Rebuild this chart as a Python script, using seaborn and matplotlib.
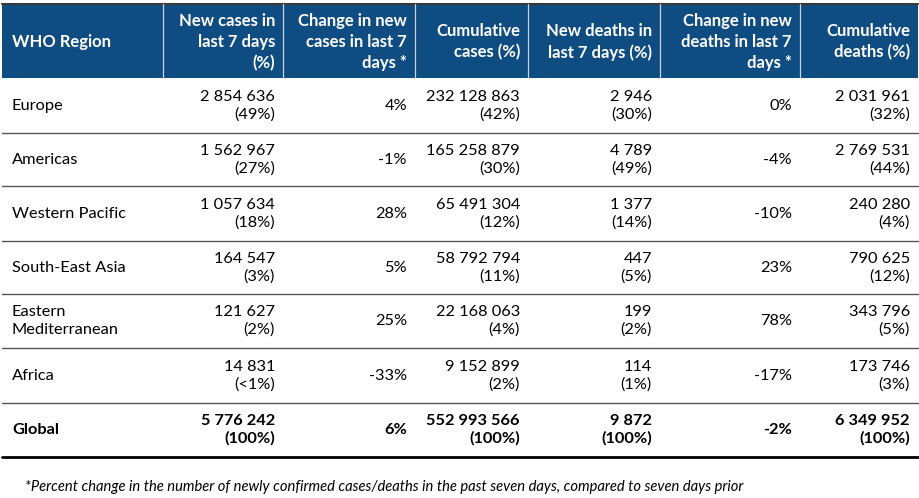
import matplotlib
matplotlib.use("Agg")
import matplotlib.pyplot as plt
import seaborn as sns
import pandas as pd

sns.set_theme(style="white")
plt.rcParams["font.family"] = ["Lato", "DejaVu Sans"]

# Table content
headers = ["WHO Region", "New cases in\nlast 7 days\n(%)", "Change in new\ncases in last 7\ndays *",
           "Cumulative\ncases (%)", "New deaths in\nlast 7 days (%)", "Change in new\ndeaths in last 7\ndays *",
           "Cumulative\ndeaths (%)"]
regions = ["Europe", "Americas", "Western Pacific", "South-East Asia", "Eastern\nMediterranean", "Africa", "Global"]
new_cases = ["2 854 636", "1 562 967", "1 057 634", "164 547", "121 627", "14 831", "5 776 242"]
new_cases_pct = ["(49%)", "(27%)", "(18%)", "(3%)", "(2%)", "(<1%)", "(100%)"]
change_cases = ["4%", "-1%", "28%", "5%", "25%", "-33%", "6%"]
cum_cases = ["232 128 863", "165 258 879", "65 491 304", "58 792 794", "22 168 063", "9 152 899", "552 993 566"]
cum_cases_pct = ["(42%)", "(30%)", "(12%)", "(11%)", "(4%)", "(2%)", "(100%)"]
new_deaths = ["2 946", "4 789", "1 377", "447", "199", "114", "9 872"]
new_deaths_pct = ["(30%)", "(49%)", "(14%)", "(5%)", "(2%)", "(1%)", "(100%)"]
change_deaths = ["0%", "-4%", "-10%", "23%", "78%", "-17%", "-2%"]
cum_deaths = ["2 031 961", "2 769 531", "240 280", "790 625", "343 796", "173 746", "6 349 952"]
cum_deaths_pct = ["(32%)", "(44%)", "(4%)", "(12%)", "(5%)", "(3%)", "(100%)"]
footnote = "*Percent change in the number of newly confirmed cases/deaths in the past seven days, compared to seven days prior"

df = pd.DataFrame({
    "region": regions,
    "new_cases": [a + "\n" + b for a, b in zip(new_cases, new_cases_pct)],
    "change_cases": change_cases,
    "cum_cases": [a + "\n" + b for a, b in zip(cum_cases, cum_cases_pct)],
    "new_deaths": [a + "\n" + b for a, b in zip(new_deaths, new_deaths_pct)],
    "change_deaths": change_deaths,
    "cum_deaths": [a + "\n" + b for a, b in zip(cum_deaths, cum_deaths_pct)],
})

# Layout (pixel coordinates)
col_edges = [2, 163, 283, 415, 528, 660, 800, 918]
row_edges = [78, 133, 186, 241, 294, 348, 403, 457]
header_top = 4
pad = 8
header_color = "#0F4C81"
fs = 11.8
hfs = 12.0

fig = plt.figure(figsize=(9.2, 4.98), dpi=100)
ax = fig.add_axes([0, 0, 1, 1])
ax.set_xlim(0, 920)
ax.set_ylim(498, 0)
ax.axis("off")

# header band
ax.fill_between([col_edges[0], col_edges[-1]], header_top, row_edges[0], color=header_color, lw=0)
ax.plot([col_edges[0], col_edges[-1]], [header_top, header_top], color="#3a3a3a", lw=1.5)
for x in col_edges[1:-1]:
    ax.plot([x, x], [header_top, row_edges[0]], color="#c8d3df", lw=0.9)

hy = (header_top + row_edges[0]) / 2 + 1
for j, h in enumerate(headers):
    if j == 0:
        ax.text(col_edges[0] + 10, hy, h, ha="left", va="center", color="white",
                fontsize=hfs, fontweight="bold")
    else:
        ax.text(col_edges[j + 1] - pad, hy, h, ha="right", va="center", color="white",
                fontsize=hfs, fontweight="bold", multialignment="right", linespacing=1.38)

# body rows
for i, row in df.iterrows():
    y0, y1 = row_edges[i], row_edges[i + 1]
    yc = (y0 + y1) / 2
    bold = "bold" if row["region"] == "Global" else "normal"
    ax.text(col_edges[0] + 10, yc, row["region"], ha="left", va="center", fontsize=fs,
            fontweight=bold, color="black", linespacing=1.28)
    for j, key in enumerate(df.columns[1:], start=1):
        ax.text(col_edges[j + 1] - pad, yc, row[key], ha="right", va="center", fontsize=fs,
                fontweight=bold, color="black", multialignment="right", linespacing=1.28)
    last = i == len(df) - 1
    ax.plot([col_edges[0], col_edges[-1]], [y1, y1], color="black" if last else "#555555",
            lw=2.0 if last else 1.0)

ax.text(25, 487, footnote, ha="left", va="center", fontsize=10.6, style="italic", color="black")

fig.savefig("out.png", dpi=100)
